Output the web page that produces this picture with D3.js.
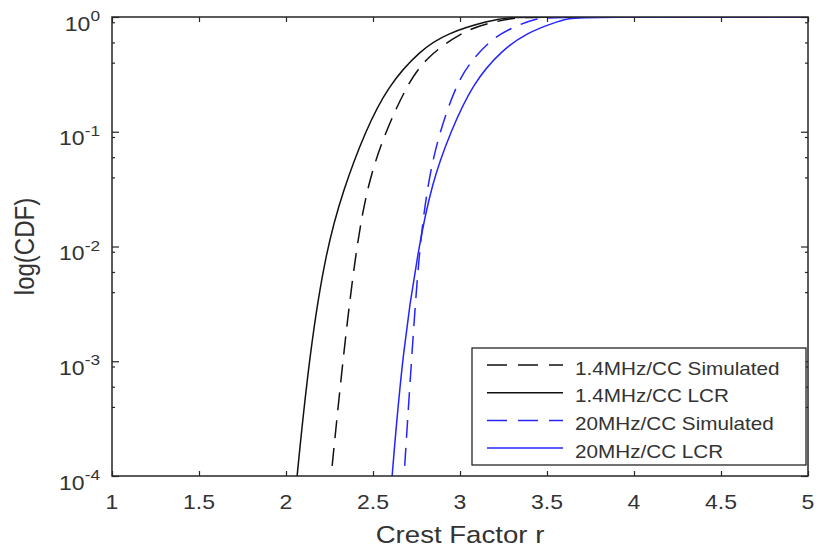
<!DOCTYPE html>
<html>
<head>
<meta charset="utf-8">
<script src="https://cdn.jsdelivr.net/npm/d3@7"></script>
<style>
  html, body { margin: 0; padding: 0; background: #fff; }
  svg { display: block; font-family: "Liberation Sans", Arial, Helvetica, sans-serif; }
</style>
</head>
<body>
<svg id="chart" width="821" height="552"></svg>
<script>
// Crest factor CDF curves (log scale), 1.4 MHz and 20 MHz component carriers
const sim14R = [2.250, 2.259, 2.333, 2.402, 2.471, 2.569, 2.701, 2.810, 3.000, 3.155, 3.33, 3.42, 5.0];
const sim14P = [7e-5, 1e-4, 1.27e-3, 9.4e-3, 0.036, 0.098, 0.267, 0.449, 0.726, 0.887, 0.99, 1, 1];

const lcr14R = [2.055, 2.063, 2.138, 2.230, 2.330, 2.454, 2.586, 2.770, 2.925, 3.170, 3.28, 3.37, 5.0];
const lcr14P = [7e-5, 1e-4, 1.26e-3, 9.3e-3, 0.0316, 0.1, 0.251, 0.513, 0.724, 0.933, 0.99, 1, 1];

const sim20R = [2.674, 2.678, 2.725, 2.765, 2.815, 2.880, 2.983, 3.057, 3.172, 3.305, 3.44, 3.53, 5.0];
const sim20P = [7e-5, 1e-4, 1.26e-3, 9.3e-3, 0.036, 0.098, 0.267, 0.398, 0.631, 0.818, 0.975, 1, 1];

const lcr20R = [2.603, 2.609, 2.672, 2.759, 2.839, 2.943, 3.075, 3.241, 3.385, 3.534, 3.63, 3.71, 5.0];
const lcr20P = [7e-5, 1e-4, 1.27e-3, 9.4e-3, 0.036, 0.098, 0.267, 0.516, 0.726, 0.887, 0.975, 1, 1];

const seriesNames = ["1.4MHz/CC Simulated", "1.4MHz/CC LCR", "20MHz/CC Simulated", "20MHz/CC LCR"];

const xTicks = [1, 1.5, 2, 2.5, 3, 3.5, 4, 4.5, 5];
const xTickLabels = ["1", "1.5", "2", "2.5", "3", "3.5", "4", "4.5", "5"];
const yTicks = [1e-4, 1e-3, 1e-2, 1e-1, 1];
const yTickExponents = ["-4", "-3", "-2", "-1", "0"];

const xLabel = "Crest Factor r";
const yLabel = "log(CDF)";

// layout
const plot = { left: 112, right: 808, top: 17, bottom: 476 };
const textColor = "#333";
const axisColor = "#262626";
const sx = 1.15; // horizontal text stretch

const svg = d3.select("#chart");

const x = d3.scaleLinear().domain([1, 5]).range([plot.left, plot.right]);
const y = d3.scaleLog().domain([1e-4, 1]).range([plot.bottom, plot.top]);

const series = [
  { name: seriesNames[0], r: sim14R, p: sim14P, color: "#111", dash: "18,10" },
  { name: seriesNames[1], r: lcr14R, p: lcr14P, color: "#111", dash: null },
  { name: seriesNames[2], r: sim20R, p: sim20P, color: "#2424ff", dash: "18,10" },
  { name: seriesNames[3], r: lcr20R, p: lcr20P, color: "#2424ff", dash: null }
];

// clip region for curves
svg.append("defs").append("clipPath").attr("id", "plotClip")
  .append("rect")
  .attr("x", plot.left).attr("y", plot.top)
  .attr("width", plot.right - plot.left).attr("height", plot.bottom - plot.top);

const line = d3.line()
  .x(d => x(d[0]))
  .y(d => y(d[1]))
  .curve(d3.curveBasis);

const curves = svg.append("g").attr("clip-path", "url(#plotClip)");
series.forEach(s => {
  const pts = s.r.map((r, i) => [r, s.p[i]]);
  curves.append("path")
    .datum(pts)
    .attr("d", line)
    .attr("fill", "none")
    .attr("stroke", s.color)
    .attr("stroke-width", 1.5)
    .attr("stroke-dasharray", s.dash);
});

// axes box with inward ticks on all four sides
const axes = svg.append("g");
const bottomAxis = d3.axisBottom(x).tickValues(xTicks).tickSize(-5).tickFormat("");
const topAxis = d3.axisTop(x).tickValues(xTicks).tickSize(-5).tickFormat("");
const minorY = [];
for (let e = -4; e < 0; e++) {
  [0.4, 0.6, 0.9].forEach(m => minorY.push(m * Math.pow(10, e + 1)));
}
const leftMajor = d3.axisLeft(y).tickValues(yTicks).tickSize(-7).tickFormat("");
const rightMajor = d3.axisRight(y).tickValues(yTicks).tickSize(-7).tickFormat("");
const leftMinor = d3.axisLeft(y).tickValues(minorY).tickSize(-3).tickFormat("");
const rightMinor = d3.axisRight(y).tickValues(minorY).tickSize(-3).tickFormat("");

function styleAxis(g) {
  g.selectAll("path.domain").remove();
  g.selectAll("line").attr("stroke", axisColor).attr("stroke-width", 1.2);
}
axes.append("g").attr("transform", `translate(0,${plot.bottom})`).call(bottomAxis).call(styleAxis);
axes.append("g").attr("transform", `translate(0,${plot.top})`).call(topAxis).call(styleAxis);
axes.append("g").attr("transform", `translate(${plot.left},0)`).call(leftMajor).call(styleAxis);
axes.append("g").attr("transform", `translate(${plot.right},0)`).call(rightMajor).call(styleAxis);
axes.append("g").attr("transform", `translate(${plot.left},0)`).call(leftMinor).call(styleAxis);
axes.append("g").attr("transform", `translate(${plot.right},0)`).call(rightMinor).call(styleAxis);

axes.append("rect")
  .attr("x", plot.left).attr("y", plot.top)
  .attr("width", plot.right - plot.left).attr("height", plot.bottom - plot.top)
  .attr("fill", "none").attr("stroke", axisColor).attr("stroke-width", 1.5);

// tick labels
const labels = svg.append("g").attr("fill", textColor);
xTicks.forEach((t, i) => {
  labels.append("text")
    .attr("transform", `translate(${x(t)},509) scale(${sx},1)`)
    .attr("text-anchor", "middle")
    .attr("font-size", 20)
    .text(xTickLabels[i]);
});
yTicks.forEach((t, i) => {
  const txt = labels.append("text")
    .attr("transform", `translate(100,${y(t) + 13.5}) scale(${sx},1)`)
    .attr("text-anchor", "end")
    .attr("font-size", 20);
  txt.append("tspan").text("10");
  txt.append("tspan").attr("dy", -9.5).attr("font-size", 15).text(yTickExponents[i]);
});

// axis titles
labels.append("text")
  .attr("transform", `translate(${(plot.left + plot.right) / 2},543) scale(${sx},1)`)
  .attr("text-anchor", "middle")
  .attr("font-size", 24)
  .text(xLabel);
labels.append("text")
  .attr("transform", `translate(34,${(plot.top + plot.bottom) / 2}) rotate(-90) scale(1,${sx})`)
  .attr("text-anchor", "middle")
  .attr("font-size", 24)
  .text(yLabel);

// legend
const legend = svg.append("g");
const lg = { x: 472, y: 348, w: 334, h: 117 };
legend.append("rect")
  .attr("x", lg.x).attr("y", lg.y).attr("width", lg.w).attr("height", lg.h)
  .attr("fill", "#fff").attr("stroke", axisColor).attr("stroke-width", 1.3);
series.forEach((s, i) => {
  const ly = 365 + i * 27.7;
  legend.append("line")
    .attr("x1", 487).attr("x2", 563).attr("y1", ly).attr("y2", ly)
    .attr("stroke", s.color).attr("stroke-width", 1.5)
    .attr("stroke-dasharray", s.dash ? "20,11" : null);
  legend.append("text")
    .attr("transform", `translate(575,${ly + 9.5}) scale(${sx},1)`)
    .attr("font-size", 18)
    .attr("fill", textColor)
    .text(s.name);
});
</script>
</body>
</html>
